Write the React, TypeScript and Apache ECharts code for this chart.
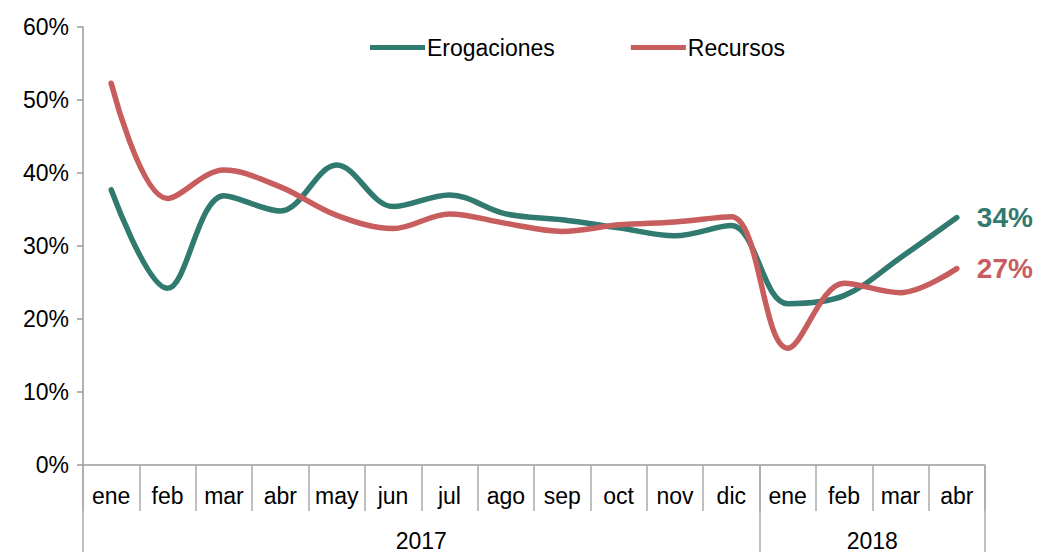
import React, { useEffect, useRef } from "react";
import * as echarts from "echarts";

const months = ["ene", "feb", "mar", "abr", "may", "jun", "jul", "ago", "sep", "oct", "nov", "dic", "ene", "feb", "mar", "abr"];
const years = ["2017", "2018"];
const yearBounds = [0, 12, 16];
const yearCenters = [6, 14];
const erogaciones = [37.7, 24.2, 36.9, 34.8, 41.1, 35.4, 37.0, 34.4, 33.6, 32.5, 31.4, 32.8, 22.1, 23.2, 28.4, 33.9];
const recursos = [52.3, 36.5, 40.4, 38.1, 34.2, 32.4, 34.4, 33.1, 32.0, 32.9, 33.3, 34.0, 16.0, 24.9, 23.6, 26.9];
const yTicks = [0, 10, 20, 30, 40, 50, 60];

const TEAL = "#317a70";
const RED = "#c75d5c";
const FONT = "Liberation Sans, Arial, sans-serif";

export default function App() {
  const ref = useRef<HTMLDivElement>(null);
  useEffect(() => {
    if (!ref.current) return;
    const chart = echarts.init(ref.current, undefined, { renderer: "svg" });
    const mkSeries = (name: string, data: number[], color: string) => ({
      name,
      type: "line",
      data,
      smooth: 0.35,
      showSymbol: false,
      symbol: "none",
      lineStyle: { color, width: 5.5, cap: "round" },
      itemStyle: { color },
      endLabel: {
        show: true,
        formatter: (p: any) => Math.round(p.value) + "%",
        color,
        fontSize: 28,
        fontWeight: "bold",
        fontFamily: FONT,
        distance: 20,
      },
    });
    chart.setOption({
      animation: false,
      textStyle: { fontFamily: FONT },
      grid: { left: 83, right: 56, top: 27, bottom: 86, containLabel: false },
      legend: {
        left: 370,
        top: 36,
        padding: 0,
        icon: "rect",
        itemWidth: 55,
        itemHeight: 5,
        itemGap: 76,
        textStyle: { fontSize: 23, color: "#000", fontFamily: FONT, padding: [0, 0, 0, -3] },
        data: ["Erogaciones", "Recursos"],
      },
      xAxis: [
        {
          type: "category",
          data: months,
          boundaryGap: true,
          axisLine: { lineStyle: { color: "#999", width: 1.5 } },
          axisTick: { show: true, length: 46, interval: 0, lineStyle: { color: "#aaa", width: 1.5 } },
          axisLabel: { interval: 0, fontSize: 23, color: "#000", margin: 19, fontFamily: FONT },
        },
        {
          type: "value",
          position: "bottom",
          min: 0,
          max: 16,
          axisLine: { show: false },
          splitLine: { show: false },
          axisTick: { show: true, length: 100, customValues: yearBounds, lineStyle: { color: "#aaa", width: 1.5 } },
          axisLabel: {
            customValues: yearCenters,
            fontSize: 23,
            color: "#000",
            margin: 64,
            fontFamily: FONT,
            formatter: (v: number) => years[yearCenters.indexOf(v)] ?? "",
          },
        },
      ],
      yAxis: {
        type: "value",
        min: yTicks[0],
        max: yTicks[yTicks.length - 1],
        interval: 10,
        splitLine: { show: false },
        axisLine: { show: true, lineStyle: { color: "#999", width: 1.5 } },
        axisTick: { show: true, length: 6, lineStyle: { color: "#999", width: 1.5 } },
        axisLabel: { fontSize: 23, color: "#000", margin: 14, fontFamily: FONT, formatter: "{value}%" },
      },
      series: [mkSeries("Erogaciones", erogaciones, TEAL), mkSeries("Recursos", recursos, RED)],
    });
    return () => chart.dispose();
  }, []);
  return <div ref={ref} style={{ position: "absolute", left: 0, top: 0, width: 1041, height: 552 }} />;
}
